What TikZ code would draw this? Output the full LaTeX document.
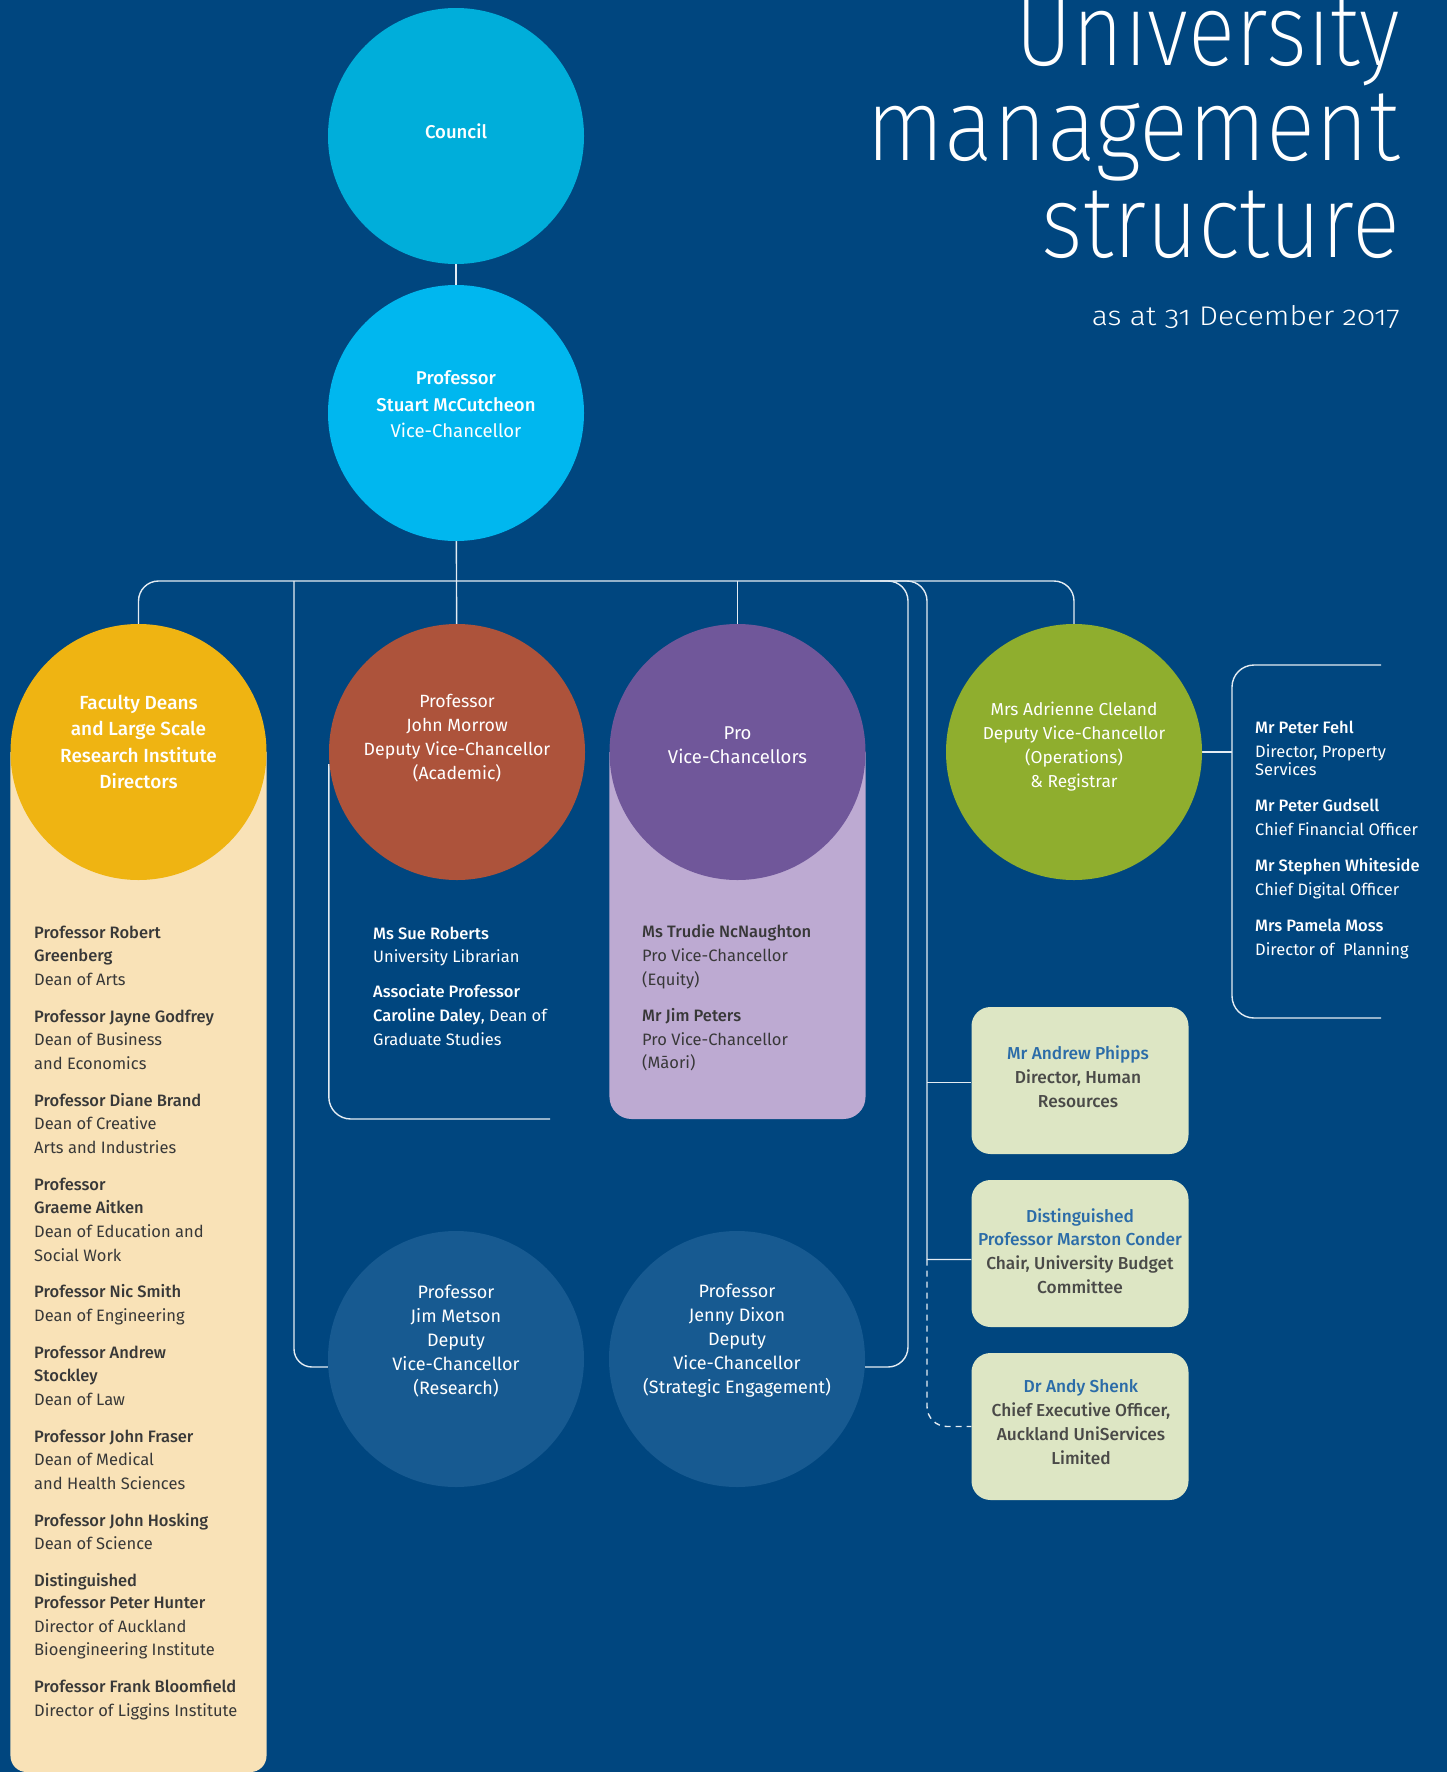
\documentclass[tikz,border=0pt]{standalone}
\usepackage{fontspec}
\usepackage{graphicx}
\IfFontExistsTF{Fira Sans Medium}
  {\setmainfont{Fira Sans}[BoldFont={Fira Sans Medium}]}
  {\setmainfont{Fira Sans}}
\IfFontExistsTF{Fira Sans ExtraLight}
  {\newfontfamily\titlefont{Fira Sans ExtraLight}[Numbers=OldStyle]}
  {\IfFontExistsTF{Fira Sans Light}
     {\newfontfamily\titlefont{Fira Sans Light}[Numbers=OldStyle]}
     {\newfontfamily\titlefont{Fira Sans}[Numbers=OldStyle]}}
\IfFontExistsTF{Fira Sans Light}
  {\newfontfamily\subfont{Fira Sans Light}[Numbers=OldStyle]}
  {\newfontfamily\subfont{Fira Sans}[Numbers=OldStyle]}
\usetikzlibrary{calc}
\definecolor{bgc}{HTML}{00467F}
\definecolor{councilc}{HTML}{00AEDA}
\definecolor{vcc}{HTML}{00B7EF}
\definecolor{yellowc}{HTML}{EFB412}
\definecolor{panelc}{HTML}{F9E2B7}
\definecolor{brownc}{HTML}{AD533B}
\definecolor{purplec}{HTML}{70579A}
\definecolor{lavc}{HTML}{BDAAD2}
\definecolor{greenc}{HTML}{8FAE2E}
\definecolor{dvcc}{HTML}{175A91}
\definecolor{boxc}{HTML}{DDE6C4}
\definecolor{namec}{HTML}{2B6CA8}
\definecolor{boxtext}{HTML}{4A4A48}
\definecolor{darktext}{HTML}{383838}
\definecolor{linec}{HTML}{E4ECF3}
\pgfdeclarelayer{bgl}
\pgfdeclarelayer{panel}
\pgfdeclarelayer{link}
\pgfsetlayers{bgl,panel,link,main}
\begin{document}
\begin{tikzpicture}[x=1pt,y=-1pt,
  conn/.style={draw=linec, line width=1.4pt},
  circ/.style={circle, inner sep=0pt, minimum size=256pt, draw=none},
  lbl/.style={align=center, text=white, inner sep=0pt},
  listtext/.style={align=left, inner sep=0pt, anchor=north west, font=\fontsize{16.5}{23.7}\selectfont},
  boxnode/.style={rounded corners=19pt, fill=boxc, minimum width=217pt, minimum height=147pt, inner sep=0pt},
  boxlbl/.style={align=center, inner sep=0pt, text=boxtext, font=\fontsize{17.3}{23.8}\selectfont}
]
\begin{pgfonlayer}{bgl}
\fill[bgc] (0,0) rectangle (1447,1772);
\end{pgfonlayer}
\useasboundingbox (0,0) rectangle (1447,1772);

% circles
\node[circ, fill=councilc] (council) at (456,136) {};
\node[circ, fill=vcc] (vc) at (456,413) {};
\node[circ, fill=yellowc] (deans) at (138.5,752) {};
\node[circ, fill=brownc] (acad) at (457,752) {};
\node[circ, fill=purplec] (pvc) at (737.5,752) {};
\node[circ, fill=greenc] (ops) at (1074,752) {};
\node[circ, fill=dvcc] (research) at (456,1359) {};
\node[circ, fill=dvcc] (strat) at (737,1359) {};

% boxes
\node[boxnode] (phipps) at (1080,1080.5) {};
\node[boxnode] (conder) at (1080,1253.5) {};
\node[boxnode] (shenk) at (1080,1426.5) {};
\node[boxlbl] (tphipps) at (1078,1076.5) {\textcolor{namec}{\textbf{Mr Andrew Phipps}}\\\textbf{Director, Human}\\\textbf{Resources}};
\node[boxlbl] (tconder) at (1080,1251) {\textcolor{namec}{\textbf{Distinguished}}\\\textcolor{namec}{\textbf{Professor Marston Conder}}\\\textbf{Chair, University Budget}\\\textbf{Committee}};
\node[boxlbl] (tshenk) at (1081,1422) {\textcolor{namec}{\textbf{Dr Andy Shenk}}\\\textbf{Chief Executive Officer,}\\\textbf{Auckland UniServices}\\\textbf{Limited}};

% circle texts
\node[lbl, font=\fontsize{18.5}{26}\selectfont] (tcouncil) at (456,131) {\textbf{Council}};
\node[lbl, font=\fontsize{18.5}{26.6}\selectfont] (tvc) at (456,404.5) {\textbf{Professor}\\\textbf{Stuart McCutcheon}\\Vice-Chancellor};
\node[lbl, font=\fontsize{19}{26.5}\selectfont] (tdeans) at (138.5,742) {\textbf{Faculty Deans}\\\textbf{and Large Scale}\\\textbf{Research Institute}\\\textbf{Directors}};
\node[lbl, font=\fontsize{17.7}{24}\selectfont] (tacad) at (457,738) {Professor\\John Morrow\\Deputy Vice-Chancellor\\(Academic)};
\node[lbl, font=\fontsize{18.5}{23.7}\selectfont] (tpvc) at (737.5,745.5) {Pro\\Vice-Chancellors};
\node[lbl, font=\fontsize{17.3}{24}\selectfont] (tops) at (1074,747) {Mrs Adrienne Cleland\\Deputy Vice-Chancellor\\(Operations)\\\&~Registrar};
\node[lbl, font=\fontsize{18}{24}\selectfont] (tresearch) at (456,1341) {Professor\\Jim Metson\\Deputy\\Vice-Chancellor\\(Research)};
\node[lbl, font=\fontsize{18}{24}\selectfont] (tstrat) at (737,1341) {Professor\\Jenny Dixon\\Deputy\\Vice-Chancellor\\(Strategic Engagement)};

% title
\node[anchor=base east, inner sep=0pt, text=white] (t1) at (1400,65) {\resizebox{384pt}{\height}{\fontsize{102}{102}\selectfont\titlefont University}};
\node[anchor=base east, inner sep=0pt, text=white] (t2) at (1400,160) {\resizebox{533pt}{\height}{\fontsize{102}{102}\selectfont\titlefont management}};
\node[anchor=base east, inner sep=0pt, text=white] (t3) at (1400,257) {\resizebox{358pt}{\height}{\fontsize{102}{102}\selectfont\titlefont structure}};
\node[anchor=base east, inner sep=0pt, text=white] (sub) at (1400,325) {\resizebox{308pt}{\height}{\fontsize{27}{27}\selectfont\subfont as at 31 December 2017}};

% lists
\node[listtext, text=darktext] (deanlist) at (34,925.5) {\textbf{Professor Robert}\\\textbf{Greenberg}\\Dean of Arts\\[12.9pt]
\textbf{Professor Jayne Godfrey}\\Dean of Business\\and Economics\\[12.9pt]
\textbf{Professor Diane Brand}\\Dean of Creative\\Arts and Industries\\[12.9pt]
\textbf{Professor}\\\textbf{Graeme Aitken}\\Dean of Education and\\Social Work\\[12.9pt]
\textbf{Professor Nic Smith}\\Dean of Engineering\\[12.9pt]
\textbf{Professor Andrew}\\\textbf{Stockley}\\Dean of Law\\[12.9pt]
\textbf{Professor John Fraser}\\Dean of Medical\\and Health Sciences\\[12.9pt]
\textbf{Professor John Hosking}\\Dean of Science\\[12.9pt]
\textbf{Distinguished}\\[-1.7pt]\textbf{Professor Peter Hunter}\\Director of Auckland\\Bioengineering Institute\\[12.9pt]
\textbf{Professor Frank Bloomfield}\\Director of Liggins Institute};

\node[listtext, text=white] (acadlist) at (373,926.5) {\textbf{Ms Sue Roberts}\\University Librarian\\[11.3pt]
\textbf{Associate Professor}\\\textbf{Caroline Daley}, Dean of\\Graduate Studies};

\node[listtext, text=darktext] (pvclist) at (642,924.5) {\textbf{Ms Trudie NcNaughton}\\Pro Vice-Chancellor\\(Equity)\\[12.5pt]
\textbf{Mr Jim Peters}\\Pro Vice-Chancellor\\(M\=aori)};

\node[listtext, text=white, font=\fontsize{16.5}{24}\selectfont] (opslist) at (1255,721) {\textbf{Mr Peter Fehl}\\Director, Property\\[-5.8pt]Services\\[11.4pt]
\textbf{Mr Peter Gudsell}\\Chief Financial Officer\\[12.4pt]
\textbf{Mr Stephen Whiteside}\\Chief Digital Officer\\[11.4pt]
\textbf{Mrs Pamela Moss}\\Director of\ \ Planning};

% panels
\begin{pgfonlayer}{panel}
\fill[panelc] (deans.west) [rounded corners=16pt] -- (10.5,1772) -- (266.5,1772) [sharp corners] -- (deans.east) -- cycle;
\fill[lavc] (pvc.west) [rounded corners=22pt] -- (609.5,1119) -- (865.5,1119) [sharp corners] -- (pvc.east) -- cycle;
\end{pgfonlayer}

% connectors
\coordinate (bus) at (456,581);
\coordinate (jA) at (294,581);
\coordinate (jB) at (860,581);
\coordinate (cB) at (908,581);
\coordinate (jC) at (880,581);
\coordinate (cC) at (927,581);
\coordinate (brk) at (1232,752);
\coordinate (brkT) at (1381,665);
\coordinate (brkB) at (1381,1018);
\coordinate (acadEnd) at (550,1119);
\begin{pgfonlayer}{link}
\draw[conn] (council) -- (vc);
\draw[conn] (vc) -- (acad);
\draw[conn, rounded corners=20pt] (deans.north) -- (deans.north |- bus) -- (ops.north |- bus) -- (ops.north);
\draw[conn] (pvc.north) -- (pvc.north |- bus);
\draw[conn, rounded corners=18pt] (jA) |- ([yshift=-8pt]research.west);
\draw[conn, rounded corners=20pt] (jB) -- (cB) |- ([yshift=-8pt]strat.east);
\draw[conn] (jC) [rounded corners=20pt] -- (cC) [sharp corners] -- (cC |- conder.west) -- ([yshift=-6pt]conder.west -| cC) -- ([yshift=-6pt]conder.west);
\draw[conn] ([yshift=-2pt]phipps.west -| cC) -- ([yshift=-2pt]phipps.west);
\draw[conn, dash pattern=on 6pt off 5pt, rounded corners=20pt] ([yshift=-6pt]conder.west -| cC) |- (shenk.west);
\draw[conn] (ops.east) -- (brk);
\draw[conn, rounded corners=22pt] (brkT) -| (brk) |- (brkB);
\draw[conn, rounded corners=22pt] ([yshift=-12pt]acad.west) |- (acadEnd);
\end{pgfonlayer}
\end{tikzpicture}
\end{document}
